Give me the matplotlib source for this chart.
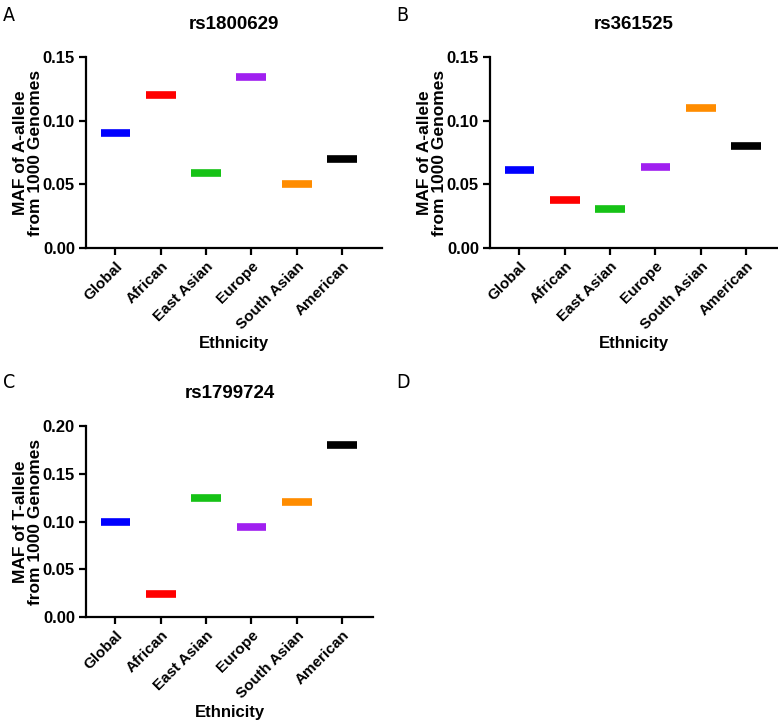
import numpy as np
import matplotlib.pyplot as plt
from matplotlib.transforms import blended_transform_factory

plt.rcParams['font.family'] = 'sans-serif'
plt.rcParams['font.sans-serif'] = ['Liberation Sans', 'Arial', 'DejaVu Sans']

# Data
ethnicities = ['Global', 'African', 'East Asian', 'Europe', 'South Asian', 'American']
colors = ['#0000ff', '#ff0000', '#16c216', '#a020f0', '#ff8c00', '#000000']

rs1800629 = [0.090, 0.120, 0.059, 0.134, 0.050, 0.070]
rs361525 = [0.061, 0.038, 0.031, 0.064, 0.110, 0.080]
rs1799724 = [0.099, 0.024, 0.125, 0.094, 0.120, 0.180]

panels = [
    ('rs1800629', rs1800629, 'MAF of A-allele\nfrom 1000 Genomes', 0.15, [0.00, 0.05, 0.10, 0.15]),
    ('rs361525', rs361525, 'MAF of A-allele\nfrom 1000 Genomes', 0.15, [0.00, 0.05, 0.10, 0.15]),
    ('rs1799724', rs1799724, 'MAF of T-allele\nfrom 1000 Genomes', 0.20, [0.00, 0.05, 0.10, 0.15, 0.20]),
]

W, H = 778, 724
fig = plt.figure(figsize=(W / 100, H / 100), dpi=100)

# axes boxes in pixels: left, top, right, bottom, xlim right, ylabel centre x
boxes = [(86, 57, 382, 248, 5.88, 28), (490, 57, 777, 248, 5.68, 432), (86, 426, 373, 617, 5.68, 28)]
letter_pos = [(3, 6), (396, 6), (3, 373), (396, 373)]

x = np.arange(len(ethnicities))
for (title, vals, ylab, ymax, yt), (l, t, r, b, xr, ylx) in zip(panels, boxes):
    ax = fig.add_axes([l / W, 1 - b / H, (r - l) / W, (b - t) / H])
    ax.hlines(vals, x - 0.33, x + 0.33, colors=colors, linewidth=5.5)
    ax.set_xlim(-0.65, xr)
    ax.set_ylim(0, ymax)
    ax.set_yticks(yt)
    ax.set_yticklabels(['%.2f' % v for v in yt], fontsize=12, fontweight='bold')
    ax.set_xticks(x)
    ax.set_xticklabels(ethnicities, rotation=45, ha='right', rotation_mode='anchor',
                       fontsize=11, fontweight='bold')
    for side in ['top', 'right']:
        ax.spines[side].set_visible(False)
    for side in ['left', 'bottom']:
        ax.spines[side].set_linewidth(1.6)
    ax.tick_params(width=1.6, length=5, pad=3)
    ax.set_title(title, fontsize=13.5, fontweight='bold', pad=20)
    ax.set_ylabel(ylab, fontsize=12.5, fontweight='bold', linespacing=1.05, va='center')
    ax.yaxis.set_label_coords((ylx - l) / (r - l), 0.5)
    ax.set_xlabel('Ethnicity', fontsize=12, fontweight='bold', va='center')
    ax.xaxis.set_label_coords(0.5, -0.5)

for letter, (lx, ly) in zip('ABCD', letter_pos):
    fig.text(lx / W, 1 - ly / H, letter, fontsize=14, family='DejaVu Sans',
             fontstretch='condensed', va='top', ha='left')

fig.savefig('out.png', dpi=100)
